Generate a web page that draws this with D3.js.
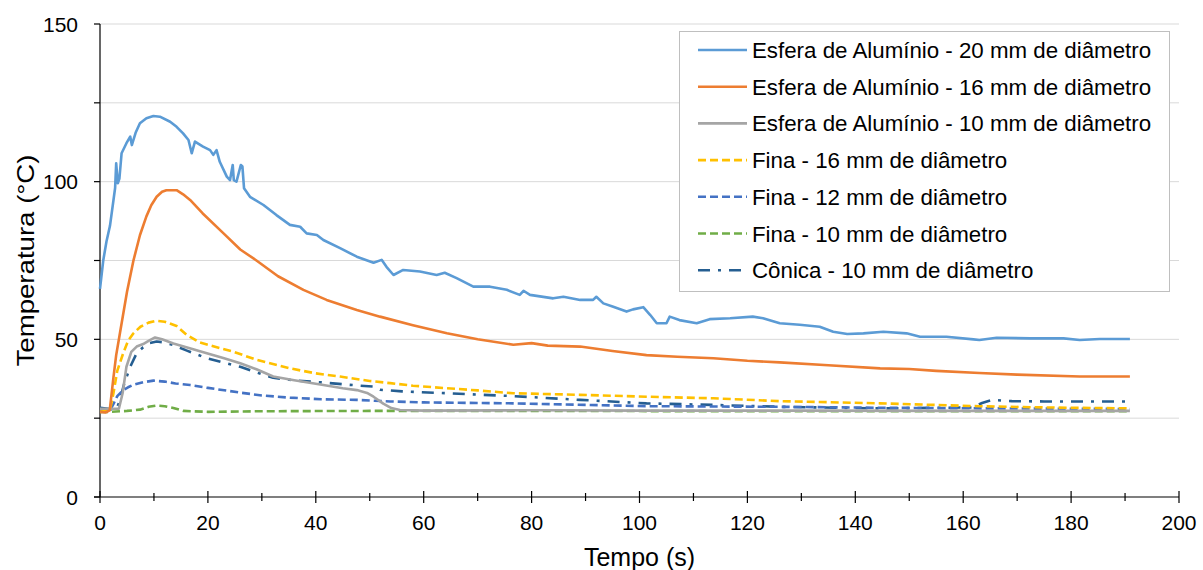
<!DOCTYPE html>
<html>
<head>
<meta charset="utf-8">
<script src="https://cdn.jsdelivr.net/npm/d3@7/dist/d3.min.js"></script>
<style>
  html, body { margin: 0; padding: 0; background: #fff; }
  svg { display: block; font-family: "Liberation Sans", Arial, sans-serif; }
</style>
</head>
<body>
<svg id="chart" width="1203" height="570"></svg>
<script>
// Temperature readings, [tempo (s), temperatura (°C)]
const esfera20 = [
  [0,66],[0.6,75],[1.2,81],[1.85,86],[2.5,94.2],[2.8,98],[3.0,105.8],[3.3,99.5],[3.6,101],[4.0,109],[4.9,112.2],
  [5.6,114.3],[5.9,111.6],[6.6,115.5],[7.4,118.5],[8.6,120.1],[9.9,120.8],[11.1,120.6],[13,119],
  [14.2,117.4],[15.4,115.3],[16.4,113.2],[17,109],[17.6,112.7],[19.1,111.1],[20.4,110],[21,108.5],
  [21.6,110],[22.2,106.3],[23.5,101.6],[24.1,100.5],[24.6,105.3],[24.8,100.5],[25.3,100],[26.1,105.3],
  [26.4,104.8],[26.7,97.9],[27.8,95.2],[30.3,92.6],[32.7,89.4],[35.2,86.3],[37.1,85.7],[38.3,83.6],
  [40.2,83.1],[41.4,81.5],[44.5,78.9],[47.6,76.2],[50.7,74.3],[52.2,75.2],[53.1,73],[54.4,70.4],
  [56.2,72],[59.3,71.5],[62.4,70.4],[63.9,71.1],[66.1,69.4],[69.2,66.7],[72.3,66.7],[75.4,65.7],
  [77.8,64.1],[78.5,65.4],[79.7,64.1],[84,63],[85.9,63.5],[89,62.5],[91.4,62.5],[92,63.5],
  [93.3,61.4],[95,60.4],[97.6,58.8],[98.8,59.5],[100.7,60.2],[102,57.7],[103.2,55.1],[105,55.1],
  [105.6,57.2],[107.4,56.1],[110.6,55.1],[113,56.4],[116.8,56.7],[121,57.2],[122.9,56.7],[126,55.1],
  [129.7,54.6],[133.4,54],[135.9,52.4],[138.5,51.7],[141.5,51.9],[145.2,52.4],[149.5,51.9],[152,50.8],
  [156.9,50.8],[161.9,50],[163,49.8],[166.2,50.5],[172.4,50.3],[178.6,50.3],[181.6,49.8],[185.3,50.1],
  [190.9,50.1]
];
const esfera16 = [
  [0,27],[1,26.8],[1.8,27.5],[2.5,38],[3,45],[3.7,52],[5,65],[6.2,75],[7.4,83],[8.6,89],[9.5,92.5],
  [10.5,95.2],[11.5,96.8],[12.3,97.3],[14.2,97.3],[15.4,96],[16.7,94.2],[19,90],[22.9,83.6],[26,78.5],
  [29,75],[33,70],[37.7,65.7],[42,62.5],[47.6,59.3],[51.9,57.2],[58,54.5],[64.3,51.9],[70,50],
  [76.6,48.3],[80,48.8],[83,48],[89,47.7],[95,46.3],[101.3,45],[107,44.5],[113.7,44],[120,43.2],
  [126,42.7],[135,41.8],[144.6,40.8],[150,40.6],[155,40],[163,39.3],[170,38.8],[181.6,38.2],[190.9,38.2]
];
const esfera10 = [
  [0,28],[2,28],[3.5,28],[4.2,33],[4.9,41.3],[5.8,46],[6.8,47.7],[8,48.5],[9,49.5],[10.2,50.6],
  [11.5,50],[13.6,48.7],[16,47.5],[19.8,45.6],[23,44],[26,42.4],[29,40.5],[32.1,38.2],[36,37],
  [41.4,35.5],[45,34.5],[47.6,33.9],[49.5,33],[50.7,31.8],[52.5,29.6],[54,28.2],[55.6,27.6],
  [60,27.4],[80,27.5],[100,27.4],[130,27.4],[160,27.3],[190.9,27.3]
];
const fina16 = [
  [0,27],[1.85,27.5],[2.5,33],[3.2,40],[4.3,45.6],[5.2,49.5],[6.2,51.9],[7.5,54],[9,55.3],[10.5,55.9],
  [12,55.6],[14.2,54.2],[16,51.5],[18.5,49],[21,47.8],[24.7,46.1],[29,43.5],[35.2,40.8],[40,39.2],
  [44.5,38.2],[50,36.8],[53.8,36.1],[58,35.3],[64.3,34.5],[70,33.8],[76.6,32.9],[89,32.4],[101.3,31.8],
  [113.7,31.3],[126,30.4],[144.6,29.7],[163,28.8],[175,28.4],[190.9,28.1]
];
const fina12 = [
  [0,27],[1.85,27.5],[2.5,29.5],[3.2,32],[4.3,33.9],[5.2,34.8],[6.2,35.6],[8,36.4],[9.9,36.9],[12,36.6],
  [14,36],[16.7,35.5],[20,34.6],[26,33.1],[30,32.2],[35.2,31.5],[41,31],[47.6,30.8],[53.8,30.3],
  [60,30],[76.6,29.7],[90,29.2],[101.3,28.8],[126,28.6],[145,28.3],[165,28.1],[190.9,27.9]
];
const fina10 = [
  [0,27],[2,27],[5,27.3],[7.4,27.7],[9,28.6],[10.5,29],[12,28.8],[13.6,28.2],[15.5,27.3],[20,27],
  [30,27.2],[50,27.3],[80,27.3],[120,27.2],[160,27.2],[190.9,27.2]
];
const conica10 = [
  [0,28.3],[1.5,28],[2.5,27.5],[3.2,28.5],[3.7,30.8],[4.5,36],[5.6,41.3],[6.8,45.6],[8,47.5],[9.2,48.8],
  [10.5,49.3],[12,49],[13.6,48.2],[16,46.5],[19.8,44],[23,42.6],[26,41.3],[29,39.5],[32.1,37.8],[36,37],
  [41.4,36.3],[46,35.6],[50.7,35],[51.9,34],[56,33.5],[64.3,32.9],[76.6,32],[89,30.8],[101.3,29.7],
  [113.7,29.2],[126,28.6],[144.6,28.1],[161.7,28.4],[163.5,29.8],[165.4,30.8],[169,30.4],[175,30.3],
  [189,30.3],[190.9,30.3]
];

const seriesNames = [
  "Esfera de Alumínio - 20 mm de diâmetro",
  "Esfera de Alumínio - 16 mm de diâmetro",
  "Esfera de Alumínio - 10 mm de diâmetro",
  "Fina - 16 mm de diâmetro",
  "Fina - 12 mm de diâmetro",
  "Fina - 10 mm de diâmetro",
  "Cônica - 10 mm de diâmetro"
];
const xTicks = [0, 20, 40, 60, 80, 100, 120, 140, 160, 180, 200];
const yTicks = [0, 50, 100, 150];
const xLabel = "Tempo (s)";
const yLabel = "Temperatura (°C)";

// Styling for each series, in legend order
const styles = [
  { color: "#5b9bd5", dash: null },
  { color: "#ed7d31", dash: null },
  { color: "#a5a5a5", dash: null },
  { color: "#ffc000", dash: "8,4" },
  { color: "#4472c4", dash: "8,4" },
  { color: "#70ad47", dash: "8,4" },
  { color: "#255e91", dash: "12,8,3,8" }
];
const seriesData = [esfera20, esfera16, esfera10, fina16, fina12, fina10, conica10];

const svg = d3.select("#chart");
const margin = { left: 100, right: 24, top: 24, bottom: 73 };
const W = 1203, H = 570;

const x = d3.scaleLinear().domain([0, 200]).range([margin.left, W - margin.right]);
const y = d3.scaleLinear().domain([0, 150]).range([H - margin.bottom, margin.top]);

// Horizontal gridlines every 25 °C
svg.append("g")
  .selectAll("line")
  .data(d3.range(25, 151, 25))
  .join("line")
  .attr("x1", x(0)).attr("x2", x(200))
  .attr("y1", d => y(d)).attr("y2", d => y(d))
  .attr("stroke", "#d9d9d9").attr("stroke-width", 1);

// Y axis: line, ticks and labels
const yAxis = svg.append("g");
yAxis.append("line")
  .attr("x1", x(0)).attr("x2", x(0))
  .attr("y1", y(0)).attr("y2", y(150))
  .attr("stroke", "#000").attr("stroke-width", 1.2);
yAxis.selectAll("line.tick")
  .data(d3.range(0, 151, 25))
  .join("line")
  .attr("class", "tick")
  .attr("x1", x(0) - 6).attr("x2", x(0))
  .attr("y1", d => y(d)).attr("y2", d => y(d))
  .attr("stroke", "#000").attr("stroke-width", 1.2);
yAxis.selectAll("text")
  .data(yTicks)
  .join("text")
  .attr("x", 78)
  .attr("y", d => y(d))
  .attr("dy", "0.36em")
  .attr("text-anchor", "end")
  .attr("font-size", 21)
  .attr("fill", "#000")
  .text(d => d);

// X axis: line, crossing ticks and labels
const xAxis = svg.append("g");
xAxis.append("line")
  .attr("x1", x(0) - 6).attr("x2", x(200))
  .attr("y1", y(0)).attr("y2", y(0))
  .attr("stroke", "#000").attr("stroke-width", 1.2);
xAxis.selectAll("line.tick")
  .data(d3.range(0, 201, 10))
  .join("line")
  .attr("class", "tick")
  .attr("x1", d => x(d)).attr("x2", d => x(d))
  .attr("y1", d => y(0) - (d % 20 === 0 ? 6 : 4))
  .attr("y2", d => y(0) + (d % 20 === 0 ? 6 : 4))
  .attr("stroke", "#000").attr("stroke-width", 1.2);
xAxis.selectAll("text")
  .data(xTicks)
  .join("text")
  .attr("x", d => x(d))
  .attr("y", 530)
  .attr("text-anchor", "middle")
  .attr("font-size", 21)
  .attr("fill", "#000")
  .text(d => d);

// Axis titles
svg.append("text")
  .attr("x", (x(0) + x(200)) / 2)
  .attr("y", 566)
  .attr("text-anchor", "middle")
  .attr("font-size", 25)
  .attr("fill", "#000")
  .text(xLabel);
svg.append("text")
  .attr("transform", `translate(34, ${(y(0) + y(150)) / 2}) rotate(-90)`)
  .attr("text-anchor", "middle")
  .attr("font-size", 24)
  .attr("textLength", 212)
  .attr("lengthAdjust", "spacingAndGlyphs")
  .attr("fill", "#000")
  .text(yLabel);

// Series lines, drawn bottom-up so the first series ends on top
const line = d3.line().x(d => x(d[0])).y(d => y(d[1]));
const order = [6, 5, 4, 3, 2, 1, 0];
svg.append("g")
  .selectAll("path")
  .data(order)
  .join("path")
  .attr("d", i => line(seriesData[i]))
  .attr("fill", "none")
  .attr("stroke", i => styles[i].color)
  .attr("stroke-width", 2.6)
  .attr("stroke-linejoin", "round")
  .attr("stroke-dasharray", i => styles[i].dash);

// Legend
const legend = svg.append("g");
legend.append("rect")
  .attr("x", 679.5).attr("y", 31.5)
  .attr("width", 490).attr("height", 260)
  .attr("fill", "#fff")
  .attr("stroke", "#bfbfbf").attr("stroke-width", 1);
const rows = legend.selectAll("g.row")
  .data(seriesNames)
  .join("g")
  .attr("class", "row")
  .attr("transform", (d, i) => `translate(0, ${50 + i * 36.7})`);
rows.append("line")
  .attr("x1", 698).attr("x2", 747)
  .attr("y1", 0).attr("y2", 0)
  .attr("stroke", (d, i) => styles[i].color)
  .attr("stroke-width", 2.6)
  .attr("stroke-dasharray", (d, i) => styles[i].dash);
rows.append("text")
  .attr("x", 752)
  .attr("y", 0)
  .attr("dy", "0.36em")
  .attr("font-size", 22.3)
  .attr("fill", "#000")
  .text(d => d);
</script>
</body>
</html>
